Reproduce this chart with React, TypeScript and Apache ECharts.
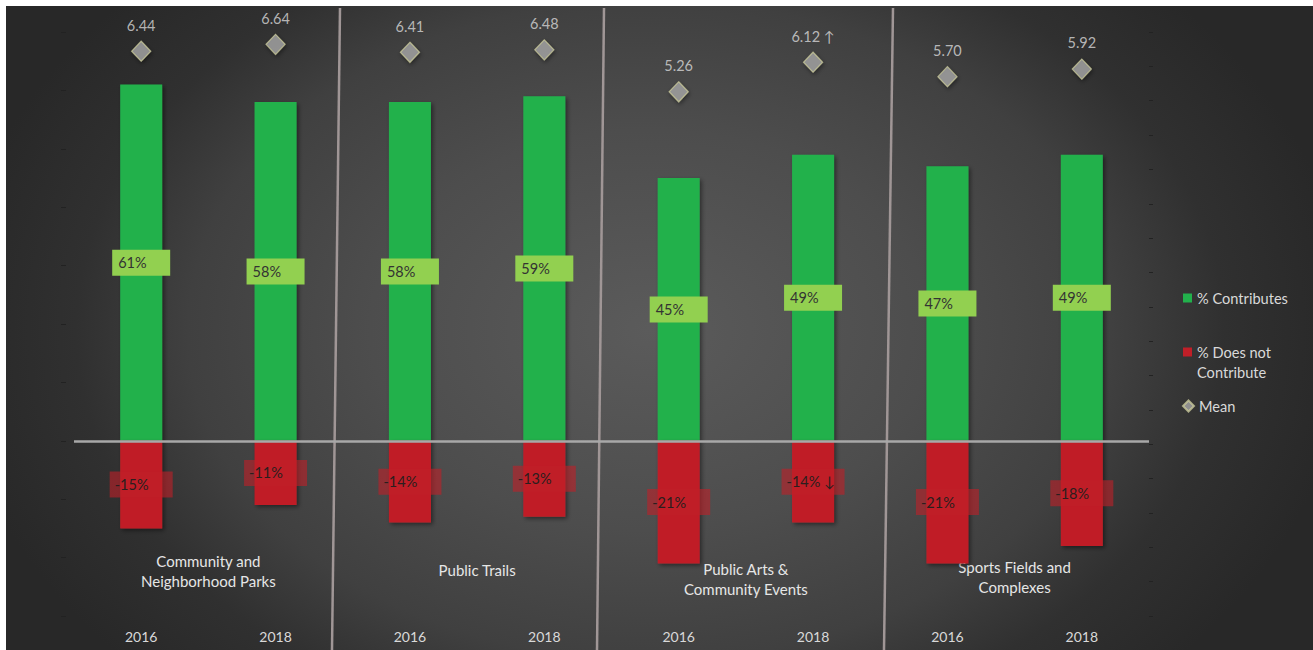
import React, { useEffect, useRef } from "react";
import * as echarts from "echarts";

// ---- data ----
const years = ["2016", "2018", "2016", "2018", "2016", "2018", "2016", "2018"];
const groups = [
  "Community and\nNeighborhood Parks",
  "Public Trails",
  "Public Arts &\nCommunity Events",
  "Sports Fields and\nComplexes",
];
const contributes = [61, 58, 58, 59, 45, 49, 47, 49];
const doesNotContribute = [-15, -11, -14, -13, -21, -14, -21, -18];
const doesNotNotes = ["", "", "", "", "", "↓", "", ""];
const means = [6.44, 6.64, 6.41, 6.48, 5.26, 6.12, 5.7, 5.92];
const meanNotes = ["", "", "", "", "", "↑", "", ""];
const pctAxis = { min: -30, max: 70, interval: 10 };
const meanAxis = { min: -10, max: 7, interval: 1 };

// ---- styles (not data) ----
const FONT = "Lato, 'Open Sans', sans-serif";
const groupLabelPadding = [
  [0, 0, 8, 0],
  [0, 0, 19, 0],
  [0, 0, 0, 0],
  [0, 0, 2, 0],
];
const separators = [
  [340, 8, 332, 650],
  [604, 8, 597, 650],
  [893, 8, 884, 650],
];

export default function App() {
  const ref = useRef<HTMLDivElement>(null);

  useEffect(() => {
    if (!ref.current) return;
    const chart = echarts.init(ref.current, undefined, { renderer: "svg" });
    const legendText = { color: "#d9d9d9", fontSize: 14.6, fontFamily: FONT, lineHeight: 20 };
    const option: any = {
      animation: false,
      backgroundColor: "transparent",
      textStyle: { fontFamily: FONT },
      grid: { left: 74, right: 164, top: 32, bottom: 34 },
      legend: [
        {
          data: ["% Contributes"],
          left: 1183,
          top: 288,
          padding: 0,
          orient: "vertical",
          itemWidth: 9,
          itemHeight: 9,
          icon: "rect",
          selectedMode: false,
          textStyle: legendText,
        },
        {
          data: ["% Does not Contribute"],
          left: 1183,
          top: 322,
          padding: 0,
          orient: "vertical",
          itemWidth: 9,
          itemHeight: 9,
          icon: "rect",
          selectedMode: false,
          formatter: () => " \n% Does not\nContribute",
          textStyle: legendText,
        },
        {
          data: ["Mean"],
          left: 1182,
          top: 396,
          padding: 0,
          orient: "vertical",
          itemWidth: 11,
          itemHeight: 11,
          icon: "diamond",
          selectedMode: false,
          textStyle: legendText,
        },
      ],
      xAxis: [
        {
          type: "category",
          position: "bottom",
          data: years,
          axisLine: { show: false, onZero: false },
          axisTick: { show: false },
          axisLabel: { color: "#d9d9d9", fontSize: 14, fontFamily: FONT, margin: 13 },
        },
        {
          type: "category",
          position: "bottom",
          data: groups.map((g, i) => ({
            value: g,
            textStyle: { padding: groupLabelPadding[i] },
          })),
          axisLine: { show: false, onZero: false },
          axisTick: { show: false },
          axisLabel: {
            inside: true,
            margin: 17,
            lineHeight: 20,
            color: "#e6e6e6",
            fontSize: 15,
            fontFamily: FONT,
            interval: 0,
          },
        },
      ],
      yAxis: [
        {
          type: "value",
          ...pctAxis,
          offset: 8,
          axisLine: { show: false },
          axisLabel: { show: false },
          splitLine: { show: false },
          axisTick: { show: true, length: 5, lineStyle: { color: "#222222" } },
        },
        {
          type: "value",
          position: "right",
          ...meanAxis,
          axisLine: { show: false },
          axisLabel: { show: false },
          splitLine: { show: false },
          axisTick: { show: true, length: 4, lineStyle: { color: "#222222" } },
        },
      ],
      graphic: separators.map(([x1, y1, x2, y2]) => ({
        type: "line",
        silent: true,
        z: 0,
        shape: { x1, y1, x2, y2 },
        style: { stroke: "#a09696", lineWidth: 2.5 },
      })),
      series: [
        {
          name: "% Contributes",
          type: "bar",
          stack: "t",
          barWidth: 42,
          data: contributes,
          itemStyle: {
            color: "#22b14c",
            shadowBlur: 4,
            shadowColor: "rgba(0,0,0,0.45)",
            shadowOffsetX: 2,
            shadowOffsetY: 2,
          },
          label: {
            show: true,
            position: "inside",
            backgroundColor: "#92d050",
            padding: [5, 0, 5, 6],
            formatter: (p: any) => `{t|${p.value}%}`,
            rich: {
              t: {
                width: 52,
                align: "left",
                color: "#333333",
                fontSize: 14.5,
                fontFamily: FONT,
                lineHeight: 16,
              },
            },
          },
          markLine: {
            silent: true,
            symbol: "none",
            z: 5,
            label: { show: false },
            lineStyle: { color: "#a8a8a8", width: 2.5, type: "solid" },
            data: [{ yAxis: 0 }],
          },
        },
        {
          name: "% Does not Contribute",
          type: "bar",
          stack: "t",
          barWidth: 42,
          data: doesNotContribute,
          itemStyle: {
            color: "#c01f28",
            shadowBlur: 4,
            shadowColor: "rgba(0,0,0,0.45)",
            shadowOffsetX: 2,
            shadowOffsetY: 2,
          },
          label: {
            show: true,
            position: "inside",
            backgroundColor: "rgba(192,31,40,0.6)",
            padding: [5, 0, 5, 5],
            formatter: (p: any) => {
              const n = doesNotNotes[p.dataIndex];
              return `{t|${p.value}%${n ? " " + n : ""}}`;
            },
            rich: {
              t: {
                width: 58,
                align: "left",
                color: "#2b1e1e",
                fontSize: 14.5,
                fontFamily: FONT,
                lineHeight: 16,
              },
            },
          },
        },
        {
          name: "Mean",
          type: "scatter",
          yAxisIndex: 1,
          data: means,
          symbol: "diamond",
          symbolSize: [19, 20],
          z: 4,
          itemStyle: {
            color: "#a5a5a5",
            borderColor: "#c8c89a",
            borderWidth: 1.2,
            shadowBlur: 4,
            shadowColor: "rgba(0,0,0,0.5)",
            shadowOffsetX: 1,
            shadowOffsetY: 2,
          },
          label: {
            show: true,
            position: "top",
            distance: 8,
            color: "#d9d9d9",
            fontSize: 14.5,
            fontFamily: FONT,
            formatter: (p: any) => {
              const n = meanNotes[p.dataIndex];
              return means[p.dataIndex].toFixed(2) + (n ? " " + n : "");
            },
          },
        },
      ],
    };
    chart.setOption(option);
    return () => chart.dispose();
  }, []);

  return (
    <div style={{ position: "absolute", left: 0, top: 0, width: 1313, height: 650, background: "#ffffff" }}>
      <div
        style={{
          position: "absolute",
          left: 6,
          top: 6,
          width: 1307,
          height: 644,
          background:
            "radial-gradient(ellipse 700px 500px at 644px 324px, #5b5b5b 0%, #4d4d4d 40%, #404040 66%, #303030 82%, #282828 100%)",
        }}
      />
      <div ref={ref} style={{ position: "absolute", left: 0, top: 0, width: 1313, height: 650 }} />
    </div>
  );
}
